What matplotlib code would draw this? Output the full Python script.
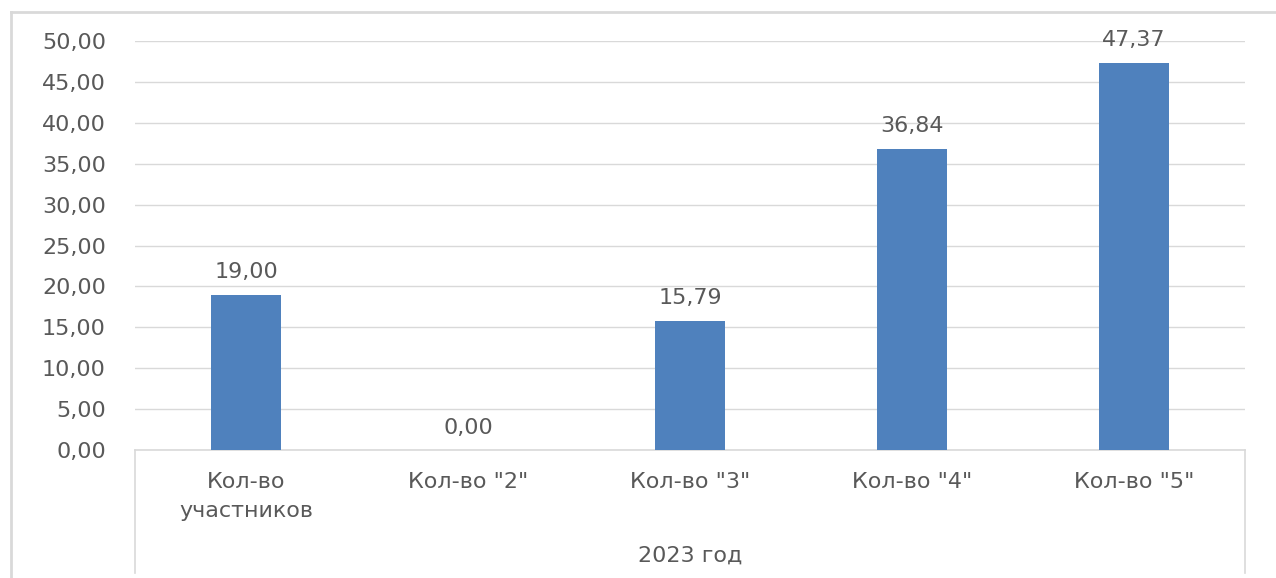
import matplotlib
matplotlib.use("Agg")
import matplotlib.pyplot as plt
from matplotlib.lines import Line2D
from matplotlib.ticker import FuncFormatter

categories = ["Кол-во\nучастников", 'Кол-во "2"', 'Кол-во "3"', 'Кол-во "4"', 'Кол-во "5"']
values = [19.00, 0.00, 15.79, 36.84, 47.37]
group_label = "2023 год"
yticks = [0, 5, 10, 15, 20, 25, 30, 35, 40, 45, 50]

W, H = 1276, 578
fig = plt.figure(figsize=(W / 100, H / 100), dpi=100)
plt.rcParams['font.family'] = ['DejaVu Sans']
txt = '#595959'
grid = '#d9d9d9'
fs = 16

left, right, top, bottom = 135, 1245, 41, 450
ax = fig.add_axes([left / W, 1 - bottom / H, (right - left) / W, (bottom - top) / H])

x = list(range(len(categories)))
bars = ax.bar(x, values, width=0.315, color='#4f81bd', zorder=3)
ax.set_xlim(-0.5, len(categories) - 0.5)
ax.set_ylim(0, 50)
ax.set_yticks(yticks)
ax.yaxis.set_major_formatter(FuncFormatter(lambda v, p: f"{v:.2f}".replace('.', ',')))
ax.grid(axis='y', color=grid, linewidth=1.0, zorder=0)
for s in ['top', 'right', 'left']:
    ax.spines[s].set_visible(False)
ax.spines['bottom'].set_color(grid)
ax.spines['bottom'].set_linewidth(1.2)
ax.tick_params(axis='y', length=0, labelsize=fs, labelcolor=txt, pad=21)
ax.tick_params(axis='x', length=0, labelsize=fs, labelcolor=txt, pad=16)
ax.set_xticks(x)
ax.set_xticklabels(categories, linespacing=1.55)

for xi, v in zip(x, values):
    ax.annotate(f"{v:.2f}".replace('.', ','), (xi, v), xytext=(0, 9),
                textcoords='offset points', ha='center', va='bottom',
                fontsize=fs, color=txt)

# group separators and label
sep_bottom = -(573 - bottom) / (bottom - top)
for xa in (0, 1):
    ax.add_line(Line2D([xa, xa], [0, sep_bottom], transform=ax.transAxes,
                       color=grid, linewidth=1.2, clip_on=False))
ax.text(0.5, -(556 - bottom) / (bottom - top), group_label, transform=ax.transAxes,
        ha='center', va='center', fontsize=fs, color=txt)

# outer frame (left and top edges visible)
fig.add_artist(Line2D([11 / W, 11 / W], [0, 1 - 12 / H], transform=fig.transFigure,
                      color='#d9d9d9', linewidth=2))
fig.add_artist(Line2D([11 / W, 1], [1 - 12 / H, 1 - 12 / H], transform=fig.transFigure,
                      color='#d9d9d9', linewidth=2))

fig.savefig("out.png", dpi=100, facecolor='white')
